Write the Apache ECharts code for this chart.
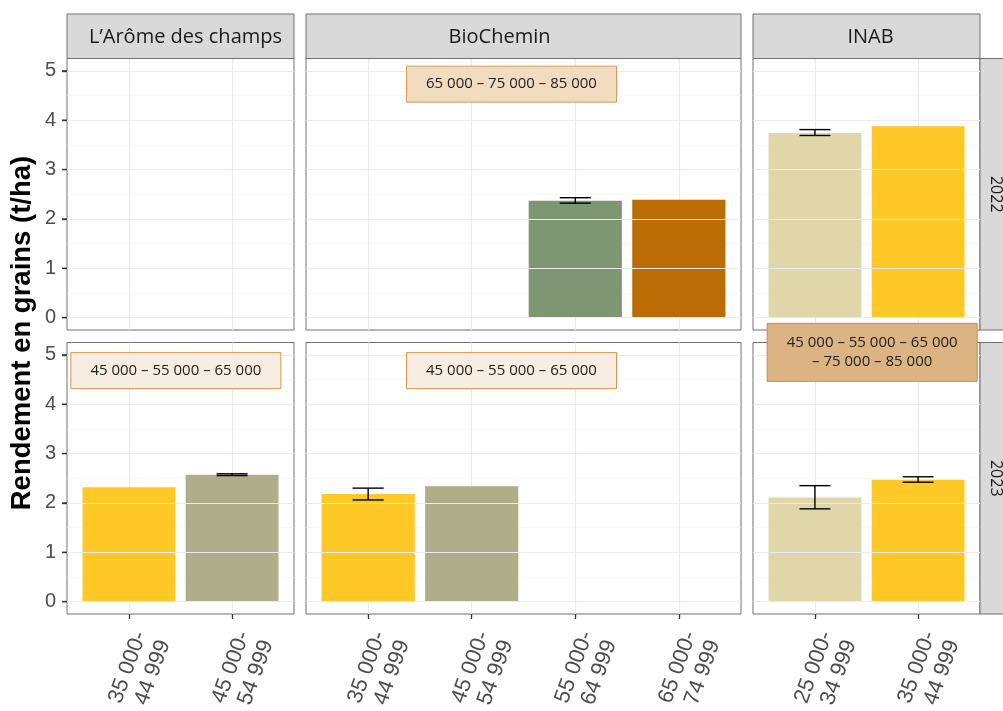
<!DOCTYPE html>
<html><head><meta charset="utf-8">
<script src="https://cdn.jsdelivr.net/npm/echarts@6/dist/echarts.min.js"></script>
<style>html,body{margin:0;padding:0;background:#fff}#c{width:1003px;height:711px}</style>
</head><body><div id="c"></div>
<script>
// ---------- data ----------
const farms = ["L’Arôme des champs", "BioChemin", "INAB"];
const years = ["2022", "2023"];
const aromeCats = ["35 000-\n44 999", "45 000-\n54 999"];
const bioCats = ["35 000-\n44 999", "45 000-\n54 999", "55 000-\n64 999", "65 000-\n74 999"];
const inabCats = ["25 000-\n34 999", "35 000-\n44 999"];
const yTicks = [0, 1, 2, 3, 4, 5];
const yMinorTicks = [0.5, 1.5, 2.5, 3.5, 4.5];

const arome2022 = [null, null];
const arome2023 = [2.32, 2.57];
const bio2022 = [null, null, 2.37, 2.39];
const bio2023 = [2.18, 2.34, null, null];
const inab2022 = [3.74, 3.88];
const inab2023 = [2.11, 2.47];

const arome2022Low = [null, null], arome2022High = [null, null];
const arome2023Low = [null, 2.555], arome2023High = [null, 2.59];
const bio2022Low = [null, null, 2.32, null], bio2022High = [null, null, 2.43, null];
const bio2023Low = [2.06, null, null, null], bio2023High = [2.30, null, null, null];
const inab2022Low = [3.69, null], inab2022High = [3.81, null];
const inab2023Low = [1.88, 2.42], inab2023High = [2.35, 2.53];

// seeding-rate annotations (text, anchor x in category units, anchor y in t/ha)
const annoBio2022 = ["65 000 – 75 000 – 85 000", 1.384, 4.73];
const annoArome2023 = ["45 000 – 55 000 – 65 000", 0.455, 4.68];
const annoBio2023 = ["45 000 – 55 000 – 65 000", 1.384, 4.68];
const annoInab2023 = ["45 000 – 55 000 – 65 000\n– 75 000 – 85 000", 0.555, 5.05];

// ---------- styling / layout ----------
const catColors = {
  "25 000-\n34 999": "#e0d6a9",
  "35 000-\n44 999": "#fec827",
  "45 000-\n54 999": "#afae8a",
  "55 000-\n64 999": "#7f9672",
  "65 000-\n74 999": "#bb6c05"
};
const colCats = [aromeCats, bioCats, inabCats];
const panelValues = [[arome2022, bio2022, inab2022], [arome2023, bio2023, inab2023]];
const panelLow = [[arome2022Low, bio2022Low, inab2022Low], [arome2023Low, bio2023Low, inab2023Low]];
const panelHigh = [[arome2022High, bio2022High, inab2022High], [arome2023High, bio2023High, inab2023High]];
const panelAnno = [[null, annoBio2022, null], [annoArome2023, annoBio2023, annoInab2023]];
const annoStyle = [[null, {fill: "#f1dcc0", stroke: "#d99a55"}, null],
  [{fill: "#f8ede2", stroke: "#d4974f"}, {fill: "#f8ede2", stroke: "#d4974f"}, {fill: "#dcb483", stroke: "#c98a45"}]];

const colLeft = [67, 306, 753];
const colWidth = [227, 435, 227];
const rowTop = [58.5, 342.5];
const rowH = 271.5;
const stripTop = 14;
const stripTextShift = [5, -24, 4];
const border = "#707070";
const TXT = "'Open Sans', 'Noto Sans', sans-serif";
const AX = "'Liberation Sans', Arial, sans-serif";

const grid = [], xAxis = [], yAxis = [], series = [];
for (let r = 0; r < 2; r++) {
  for (let c = 0; c < 3; c++) {
    const g = r * 3 + c;
    const cats = colCats[c];
    const idx = cats.map((_, i) => i);
    grid.push({left: colLeft[c], top: rowTop[r], width: colWidth[c], height: rowH,
      show: true, borderColor: border, borderWidth: 1, backgroundColor: "#fff",
      containLabel: false, outerBoundsMode: "none"});
    xAxis.push({type: "value", gridIndex: g, min: -0.6, max: cats.length - 0.4, position: "bottom",
      axisLine: {show: false, onZero: false},
      axisTick: {show: r === 1, customValues: idx, length: 5, lineStyle: {color: "#333", width: 1.3}},
      axisLabel: {show: r === 1, customValues: idx, formatter: v => cats[Math.round(v)] || "",
        rotate: 70, fontSize: 22, color: "#4d4d4d", fontFamily: AX, align: "right", verticalAlign: "top",
        lineHeight: 25, margin: 14, hideOverlap: false},
      splitLine: {show: true, lineStyle: {color: "#ebebeb", width: 1.1}}
    });
    yAxis.push({type: "value", gridIndex: g, min: -0.25, max: 5.25, position: "left",
      axisLine: {show: false, onZero: false},
      axisTick: {show: c === 0, inside: false, customValues: yTicks, length: 5, lineStyle: {color: "#333", width: 1.3}},
      axisLabel: {show: c === 0, customValues: yTicks, fontSize: 20, color: "#4d4d4d", fontFamily: AX, margin: 11},
      splitLine: {show: true, lineStyle: {color: "#ebebeb", width: 1.1}},
      z: 5
    });
    yAxis.push({type: "value", gridIndex: g, min: -0.25, max: 5.25, position: "left",
      axisLine: {show: false, onZero: false},
      axisTick: {show: false, customValues: yMinorTicks},
      axisLabel: {show: false, customValues: yMinorTicks},
      splitLine: {show: true, lineStyle: {color: "#f4f4f4", width: 0.6}}
    });
    if (c === 0) {
      // explicit outside tick marks on the y scale of the left panels
      series.push({type: "custom", xAxisIndex: g, yAxisIndex: g * 2, data: yTicks.map(v => [-0.6, v]),
        clip: false, silent: true, animation: false, z: 6,
        renderItem: (params, api) => {
          const p = api.coord([api.value(0), api.value(1)]);
          return {type: "line", shape: {x1: p[0] - 5, y1: p[1], x2: p[0], y2: p[1]},
            style: {stroke: "#333", lineWidth: 1.2}};
        }});
    }
    const vals = panelValues[r][c];
    const barData = [];
    vals.forEach((v, i) => { if (v != null) barData.push({value: [i, v], itemStyle: {color: catColors[cats[i]]}}); });
    if (barData.length) {
      series.push({type: "bar", xAxisIndex: g, yAxisIndex: g * 2, data: barData, barWidth: "90%",
        silent: true, animation: false, z: 3});
    }
    const errData = [];
    panelLow[r][c].forEach((lo, i) => { if (lo != null) errData.push([i, lo, panelHigh[r][c][i]]); });
    if (errData.length) {
      series.push({type: "custom", xAxisIndex: g, yAxisIndex: g * 2, data: errData, z: 5, animation: false,
        encode: {x: 0, y: [1, 2]}, clip: false,
        renderItem: (params, api) => {
          const x = api.value(0), lo = api.value(1), hi = api.value(2);
          const a = api.coord([x, lo]), b = api.coord([x, hi]);
          const half = api.size([0.3, 0])[0] / 2;
          const st = {stroke: "#000", lineWidth: 1.4};
          return {type: "group", children: [
            {type: "line", shape: {x1: a[0], y1: a[1], x2: b[0], y2: b[1]}, style: st},
            {type: "line", shape: {x1: a[0] - half, y1: a[1], x2: a[0] + half, y2: a[1]}, style: st},
            {type: "line", shape: {x1: b[0] - half, y1: b[1], x2: b[0] + half, y2: b[1]}, style: st}
          ]};
        }});
    }
    const an = panelAnno[r][c];
    if (an) {
      const st = annoStyle[r][c];
      series.push({type: "custom", xAxisIndex: g, yAxisIndex: g * 2, data: [[an[1], an[2]]], z: 10,
        animation: false, clip: false, silent: true,
        renderItem: (params, api) => {
          const p = api.coord([api.value(0), api.value(1)]);
          const lines = an[0].split("\n").length;
          const w = 210, h = lines > 1 ? 58 : 36;
          return {type: "group", children: [
            {type: "rect", shape: {x: p[0] - w / 2, y: p[1] - h / 2, width: w, height: h},
              style: {fill: st.fill, stroke: st.stroke, lineWidth: 1}},
            {type: "text", x: p[0], y: p[1], style: {text: an[0], align: "center", verticalAlign: "middle",
              fontSize: 15, fontFamily: TXT, fill: "#222", lineHeight: 18.5}}
          ]};
        }});
    }
  }
}

const graphic = [];
for (let c = 0; c < 3; c++) {
  graphic.push({type: "rect", shape: {x: colLeft[c], y: stripTop, width: colWidth[c], height: rowTop[0] - stripTop},
    style: {fill: "#d9d9d9", stroke: border, lineWidth: 1}, z: 1});
  graphic.push({type: "text", x: colLeft[c] + colWidth[c] / 2 + stripTextShift[c], y: (stripTop + rowTop[0]) / 2 + 1,
    style: {text: farms[c], align: "center", verticalAlign: "middle", textAlign: "center", textVerticalAlign: "middle",
      fontSize: 20, fontFamily: TXT, fill: "#1a1a1a"}, z: 2});
}
for (let r = 0; r < 2; r++) {
  const x0 = colLeft[2] + colWidth[2];
  graphic.push({type: "rect", shape: {x: x0, y: rowTop[r], width: 45, height: rowH},
    style: {fill: "#d9d9d9", stroke: border, lineWidth: 1}, z: 1});
  graphic.push({type: "text", x: x0 + 15.5, y: rowTop[r] + rowH / 2, rotation: -Math.PI / 2,
    style: {text: years[r], align: "center", verticalAlign: "middle", textAlign: "center", textVerticalAlign: "middle",
      fontSize: 16, fontFamily: TXT, fill: "#1a1a1a"}, z: 2});
}
graphic.push({type: "text", x: 22, y: 333, rotation: Math.PI / 2,
  style: {text: "Rendement en grains (t/ha)", align: "center", verticalAlign: "middle", textAlign: "center",
    textVerticalAlign: "middle", fontSize: 27.5, fontWeight: "bold", fontFamily: AX, fill: "#000"}});

const chart = echarts.init(document.getElementById("c"), null, {renderer: "canvas"});
chart.setOption({animation: false, backgroundColor: "#fff", grid, xAxis, yAxis, series, graphic});
</script></body></html>
